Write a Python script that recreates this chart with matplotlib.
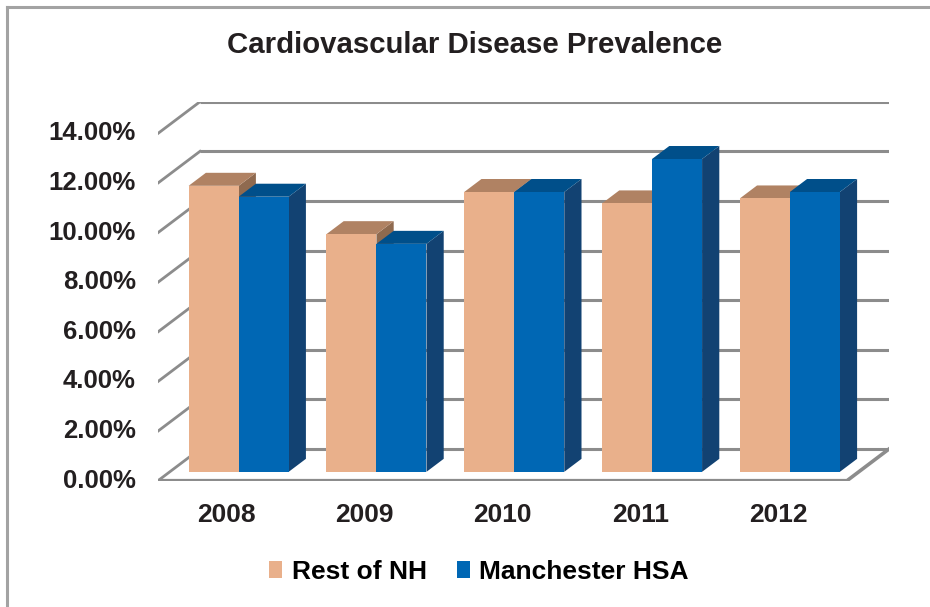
import matplotlib
matplotlib.use('Agg')
import matplotlib.pyplot as plt
from matplotlib.patches import Polygon, Patch
from matplotlib.lines import Line2D

# ---- data ----
years = ['2008', '2009', '2010', '2011', '2012']
rest_nh = [11.53, 9.58, 11.28, 10.82, 11.02]
manchester = [11.09, 9.19, 11.28, 12.61, 11.28]
series_names = ['Rest of NH', 'Manchester HSA']
y_ticks = [0, 2, 4, 6, 8, 10, 12, 14]
title = 'Cardiovascular Disease Prevalence'

# ---- style ----
plt.rcParams['font.family'] = ['Liberation Sans', 'DejaVu Sans']
TXT = '#231f20'
GRID = '#8c8c8c'
colors = {
    'Rest of NH': ('#E9B08B', '#B08263', '#8F6A4F'),        # front, top, side
    'Manchester HSA': ('#0067B4', '#004F8A', '#124272'),
}

W, H = 930, 607
fig = plt.figure(figsize=(W / 100, H / 100), dpi=100)

DX = 0.305   # depth offset (category units)
DY = 1.278   # depth offset (percent units)
YMAX = 14
x0, x1 = 158, 889
y0, y1 = 480.7, 101.7
ax = fig.add_axes([x0 / W, 1 - y0 / H, (x1 - x0) / W, (y0 - y1) / H])
n = len(years)
ax.set_xlim(-0.5, n - 0.5 + DX)
ax.set_ylim(0, YMAX + DY)
ax.axis('off')

# ---- walls / gridlines ----
for v in y_ticks:
    ax.plot([-0.5 + DX, n - 0.5 + DX], [v + DY, v + DY], color=GRID, lw=2.2,
            solid_capstyle='butt', zorder=1)
    ax.plot([-0.5, -0.5 + DX], [v, v + DY], color=GRID, lw=2.0, zorder=1)
    ax.annotate(f'{v:.2f}%', xy=(-0.5, v), xytext=(-16, 0), textcoords='offset points',
                ha='right', va='center', fontsize=18.5, fontweight='bold', color=TXT,
                annotation_clip=False)
# floor
ax.plot([-0.5, n - 0.5, n - 0.5 + DX], [0, 0, DY], color=GRID, lw=2.6, zorder=1,
        solid_joinstyle='miter')

# ---- bars ----
d0, dd = 0.28, 0.41
w = 0.363
for i, yr in enumerate(years):
    for k, (name, vals) in enumerate(zip(series_names, [rest_nh, manchester])):
        front, top_c, side_c = colors[name]
        xl = i - w + k * w + d0 * DX
        xr = xl + w
        b = d0 * DY
        t = b + vals[i]
        ax.add_patch(Polygon([(xr, b), (xr, t), (xr + dd * DX, t + dd * DY),
                              (xr + dd * DX, b + dd * DY)], closed=True,
                             facecolor=side_c, edgecolor='none', zorder=3))
        ax.add_patch(Polygon([(xl, t), (xr, t), (xr + dd * DX, t + dd * DY),
                              (xl + dd * DX, t + dd * DY)], closed=True,
                             facecolor=top_c, edgecolor='none', zorder=3))
        ax.bar(xl, vals[i], width=w, bottom=b, align='edge', color=front,
               edgecolor='none', zorder=4)
    ax.annotate(yr, xy=(i, 0), xytext=(0, -25), textcoords='offset points',
                ha='center', va='center', fontsize=19, fontweight='bold', color=TXT,
                annotation_clip=False)

# ---- title ----
fig.text(475 / W, 1 - 45 / H, title, ha='center', va='center', fontsize=21.2,
         fontweight='bold', color=TXT)

# ---- legend ----
handles = [Patch(facecolor=colors[s][0], edgecolor='none') for s in series_names]
fig.legend(handles, series_names, loc='center', bbox_to_anchor=(479 / W, 1 - 572 / H),
           ncol=2, frameon=False, prop={'weight': 'bold', 'size': 19},
           handlelength=0.5, handleheight=0.6, handletextpad=0.35, columnspacing=1.15)

# ---- border ----
fig.add_artist(Line2D([7 / W, 7 / W], [0, 1 - 7 / H], transform=fig.transFigure,
                      color='#a3a3a3', lw=2.2))
fig.add_artist(Line2D([7 / W, 1], [1 - 7 / H, 1 - 7 / H], transform=fig.transFigure,
                      color='#a3a3a3', lw=2.2))

fig.savefig('out.png', dpi=100, facecolor='white')
